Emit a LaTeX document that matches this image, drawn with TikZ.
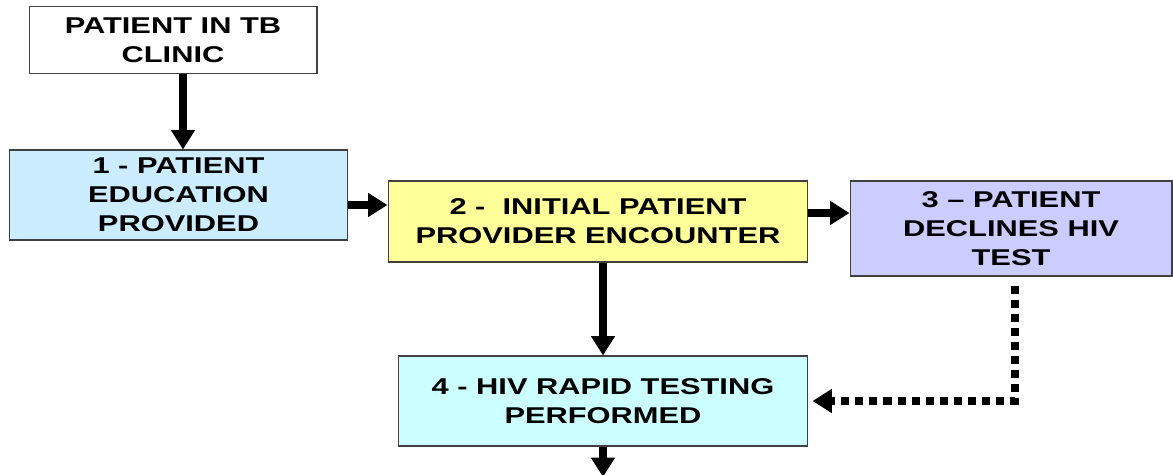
\documentclass[tikz,border=0pt]{standalone}
\usepackage{fontspec}
\setmainfont{Liberation Sans}[FakeStretch=1.35]
\usetikzlibrary{arrows.meta, positioning}
\definecolor{edublue}{HTML}{CCECFF}
\definecolor{encyellow}{HTML}{FFFF99}
\definecolor{declilac}{HTML}{CCCCFF}
\definecolor{testcyan}{HTML}{CCFFFF}

\begin{document}
\begin{tikzpicture}[x=0.02cm,y=-0.02cm,>={Triangle[length=11pt,width=13pt]},flow/.style={->, line width=4pt},optout/.style={->, line width=4pt, dash pattern=on 4.6pt off 3.4pt},stepbox/.style={draw=black!75, line width=0.6pt, align=center, inner sep=0pt, font=\bfseries\fontsize{13}{16.6}\selectfont}]
\useasboundingbox (0,0) rectangle (1173,474);
% the boxes of the flow
\node[stepbox, fill=white, minimum width=5.76cm, minimum height=1.34cm] (clinic) at (173,40) {PATIENT IN TB\\CLINIC};
\node[stepbox, fill=edublue, minimum width=6.78cm, minimum height=1.8cm] (edu) at (178.5,195) {1 - PATIENT\\EDUCATION\\PROVIDED};
\node[stepbox, fill=encyellow, minimum width=8.4cm, minimum height=1.62cm] (encounter) at (598,221.5) {2 -\ \ INITIAL PATIENT\\PROVIDER ENCOUNTER};
\node[stepbox, fill=declilac, minimum width=6.44cm, minimum height=1.9cm] (declines) at (1011,228.5) {3 -- PATIENT\\DECLINES HIV\\TEST};
\node[stepbox, fill=testcyan, minimum width=8.2cm, minimum height=1.8cm] (rapid) at (603,401) {4 - HIV RAPID TESTING\\PERFORMED};
\coordinate (next) at (603,477);
% arrows between the boxes
\draw[flow] ([xshift=0.2cm]clinic.south) -- ([xshift=0.2cm]clinic.south |- edu.north);
\draw[flow] ([yshift=-0.2cm]edu.east) -- ([yshift=-0.2cm]edu.east -| encounter.west);
\draw[flow] ([yshift=0.17cm]encounter.east) -- ([yshift=0.17cm]encounter.east -| declines.west);
\draw[flow] (encounter.south -| rapid.north) -- (rapid.north);
\draw[optout] ([xshift=0.08cm,yshift=-0.18cm]declines.south) |- ([xshift=0.08cm]rapid.east);
\draw[flow] (rapid.south) -- (next);
\end{tikzpicture}
\end{document}
